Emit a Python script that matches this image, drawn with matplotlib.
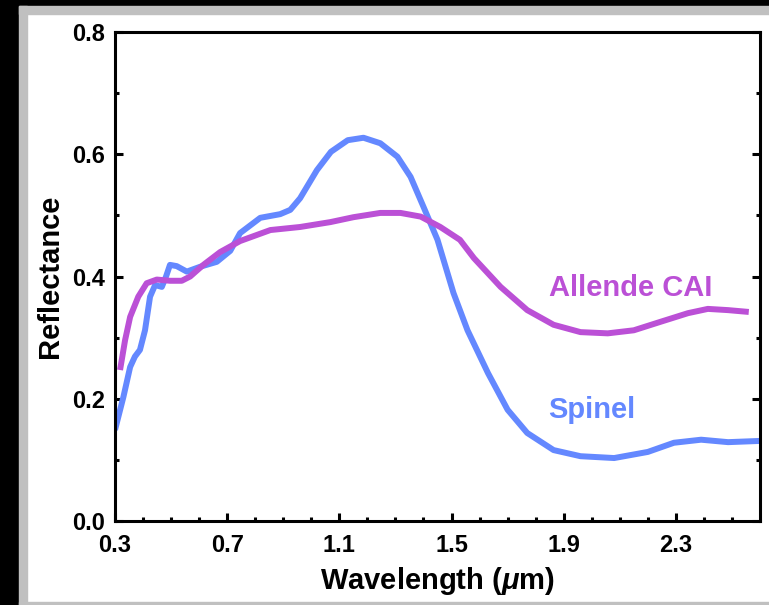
import numpy as np
import matplotlib
matplotlib.use("Agg")
import matplotlib.pyplot as plt
from matplotlib.patches import Rectangle

# Spinel spectrum
spinel_x = [0.30, 0.33, 0.354, 0.371, 0.389, 0.407, 0.425, 0.443, 0.467, 0.482, 0.496,
            0.52, 0.556, 0.604, 0.663, 0.711, 0.746, 0.818, 0.889, 0.925, 0.96, 1.02,
            1.07, 1.13, 1.186, 1.246, 1.307, 1.354, 1.40, 1.45, 1.507, 1.557, 1.63,
            1.70, 1.77, 1.864, 1.96, 2.08, 2.20, 2.293, 2.39, 2.486, 2.60]
spinel_y = [0.149, 0.203, 0.252, 0.269, 0.280, 0.312, 0.367, 0.386, 0.383, 0.400, 0.419,
            0.417, 0.408, 0.416, 0.424, 0.442, 0.471, 0.496, 0.502, 0.509, 0.528, 0.574,
            0.604, 0.623, 0.627, 0.618, 0.596, 0.563, 0.514, 0.460, 0.373, 0.312, 0.242,
            0.182, 0.144, 0.116, 0.106, 0.103, 0.113, 0.128, 0.133, 0.129, 0.131]

# Allende CAI spectrum
cai_x = [0.318, 0.336, 0.354, 0.383, 0.413, 0.449, 0.496, 0.538, 0.568, 0.615, 0.675,
         0.746, 0.854, 0.96, 1.068, 1.15, 1.246, 1.318, 1.39, 1.46, 1.53, 1.58,
         1.675, 1.77, 1.864, 1.96, 2.057, 2.15, 2.246, 2.343, 2.414, 2.486, 2.56]
cai_y = [0.247, 0.296, 0.334, 0.367, 0.389, 0.395, 0.393, 0.393, 0.400, 0.419, 0.440,
         0.458, 0.476, 0.481, 0.489, 0.497, 0.504, 0.504, 0.498, 0.481, 0.460, 0.430,
         0.383, 0.345, 0.321, 0.309, 0.307, 0.312, 0.326, 0.340, 0.347, 0.345, 0.342]

plt.rcParams['font.family'] = ['Liberation Sans', 'DejaVu Sans']
plt.rcParams['font.weight'] = 'bold'
plt.rcParams['mathtext.fontset'] = 'custom'
plt.rcParams['mathtext.it'] = 'Liberation Sans:italic:bold'

blue = "#6488FF"
purple = "#BB50D6"

fig = plt.figure(figsize=(7.69, 6.05), dpi=100)
W, H = 769, 605
# screenshot frame
fig.add_artist(Rectangle((0, 0), 19 / W, 1, transform=fig.transFigure, color="black", zorder=-5))
fig.add_artist(Rectangle((0, 1 - 6 / H), 1, 6 / H, transform=fig.transFigure, color="black", zorder=-5))
fig.add_artist(Rectangle((19 / W, 0), 8 / W, 1 - 6 / H, transform=fig.transFigure, color="#c0c0c0", zorder=-4))
fig.add_artist(Rectangle((19 / W, 1 - 14 / H), 1, 8 / H, transform=fig.transFigure, color="#c0c0c0", zorder=-4))
fig.add_artist(Rectangle((19 / W, 0), 1, 3 / H, transform=fig.transFigure, color="#c0c0c0", zorder=-4))

ax = fig.add_axes([115 / W, 1 - 521 / H, (760 - 115) / W, (521 - 32) / H])
ax.plot(spinel_x, spinel_y, color=blue, lw=4.3, solid_joinstyle="round", solid_capstyle="butt")
ax.plot(cai_x, cai_y, color=purple, lw=4.3, solid_joinstyle="round", solid_capstyle="butt")

ax.text(1.846, 0.382, "Allende CAI", color=purple, fontsize=21, fontweight="bold", va="center")
ax.text(1.846, 0.182, "Spinel", color=blue, fontsize=21, fontweight="bold", va="center")

ax.set_xlim(0.3, 2.6)
ax.set_ylim(0.0, 0.8)
ax.set_xticks([0.3, 0.7, 1.1, 1.5, 1.9, 2.3])
ax.set_xticks(np.arange(0.4, 2.6, 0.1), minor=True)
ax.set_yticks([0.0, 0.2, 0.4, 0.6, 0.8])
ax.set_yticks([0.1, 0.3, 0.5, 0.7], minor=True)
ax.set_xticklabels(["0.3", "0.7", "1.1", "1.5", "1.9", "2.3"])
ax.set_yticklabels(["0.0", "0.2", "0.4", "0.6", "0.8"])

for s in ax.spines.values():
    s.set_linewidth(2.2)
ax.tick_params(axis="both", which="major", direction="in", length=6, width=2.2,
               labelsize=17)
ax.tick_params(axis="x", which="major", pad=9)
ax.tick_params(axis="y", which="major", pad=7)
ax.tick_params(axis="both", which="minor", direction="in", length=3, width=2.2)
ax.tick_params(axis="y", which="both", right=True)
for lab in ax.get_xticklabels() + ax.get_yticklabels():
    lab.set_fontweight("bold")

ax.set_xlabel(r"Wavelength ($\mathit{\mu}$m)", fontsize=21, fontweight="bold", labelpad=6)
ax.set_ylabel("Reflectance", fontsize=21, fontweight="bold", labelpad=6)

fig.savefig("out.png", dpi=100)
